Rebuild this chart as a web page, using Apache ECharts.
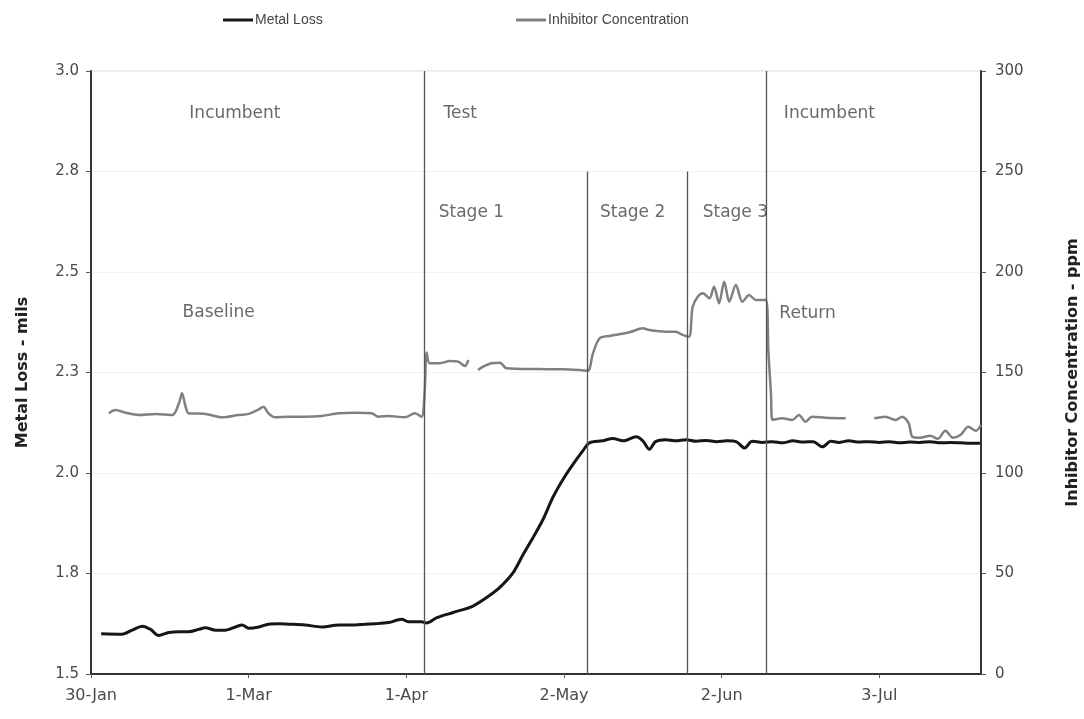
<!DOCTYPE html>
<html>
<head>
<meta charset="utf-8">
<script src="https://cdn.jsdelivr.net/npm/echarts@6/dist/echarts.min.js"></script>
<style>html,body{margin:0;padding:0;background:#fff}#c{width:1084px;height:719px}</style>
</head>
<body>
<div id="c"></div>
<script>
// ---- data ----
const xTickLabels = ['30-Jan', '1-Mar', '1-Apr', '2-May', '2-Jun', '3-Jul']; // every 31 days from 30-Jan
const leftTickLabels = ['1.5', '1.8', '2.0', '2.3', '2.5', '2.8', '3.0'];
const seriesNames = ['Metal Loss', 'Inhibitor Concentration'];

const metalLossDays = [2, 6.1, 8.1, 10.1, 11.7, 13.3, 15.3, 17.3, 19.2, 21.2, 22.5, 24.5, 26.4, 28.4, 29.7, 31, 33, 34.9, 36.9, 38.8, 42.1, 45.4, 48.7, 51.9, 53.9, 55.9, 58.5, 61.1, 62.4, 65, 66, 68, 71.2, 75.1, 79.1, 81, 83, 85, 86.9, 88.9, 90.8, 92.8, 94.8, 96.7, 98, 100.6, 102.6, 104.6, 107.2, 108.5, 109.8, 111, 113, 115, 117, 119, 121, 123, 125, 127, 128.5, 130, 132, 134, 136, 138, 140, 142, 143.8, 145.5, 147, 149, 151, 153, 155, 157, 159, 161, 163, 165, 167, 169, 171, 173, 174.8];
const metalLossValues = [1.600, 1.599, 1.609, 1.619, 1.611, 1.596, 1.603, 1.605, 1.605, 1.611, 1.615, 1.609, 1.609, 1.617, 1.622, 1.614, 1.617, 1.624, 1.625, 1.624, 1.622, 1.617, 1.622, 1.622, 1.624, 1.625, 1.628, 1.636, 1.630, 1.630, 1.627, 1.640, 1.653, 1.669, 1.702, 1.723, 1.752, 1.798, 1.839, 1.885, 1.939, 1.984, 2.022, 2.055, 2.075, 2.080, 2.086, 2.080, 2.090, 2.080, 2.059, 2.078, 2.083, 2.080, 2.083, 2.079, 2.081, 2.078, 2.080, 2.077, 2.062, 2.079, 2.076, 2.078, 2.075, 2.080, 2.077, 2.078, 2.065, 2.079, 2.076, 2.080, 2.077, 2.078, 2.076, 2.078, 2.075, 2.077, 2.076, 2.078, 2.075, 2.076, 2.075, 2.074, 2.074];

const inhibitorDays = [3.5, 4.8, 6.8, 9.4, 12.7, 16, 17.3, 17.9, 18.6, 19.2, 22.5, 25.8, 29, 31, 33, 33.9, 34.9, 36.2, 38.8, 42.1, 45.4, 48.7, 51.9, 55.2, 56.5, 58.5, 61.7, 63.7, 65, 65.6, 66, 66.6, 68.6, 70.6, 72.2, 73.5, 74.2, 75, 76.1, 77.1, 78.7, 80.4, 81.7, 87.6, 92.8, 96.1, 97.7, 98.7, 100, 102, 105.9, 108.5, 109.8, 113.1, 115, 116.3, 117.6, 118.3, 119.3, 120.3, 121.6, 122.5, 123.5, 124.5, 125.5, 126.8, 128.1, 129.4, 130.7, 132.7, 133.2, 133.7, 134, 136, 137.9, 139.2, 140.5, 141.8, 144.5, 148.4, 151, 154, 156.2, 158.2, 159.5, 160.8, 161.5, 163, 165, 166.5, 168, 169.5, 171, 172.5, 174, 175];
const inhibitorValues = [129.7, 131.3, 130, 128.9, 129.4, 128.9, 134.7, 139.7, 133, 129.7, 129.4, 127.7, 128.9, 129.4, 131.7, 133, 129.7, 127.7, 128, 128, 128.4, 129.7, 130, 129.7, 128, 128.4, 127.7, 129.7, 128, 140, 160, 154.6, 154.6, 155.7, 155.4, 153.2, 156.2, null, 151.2, 152.9, 154.6, 154.9, 152.1, 151.7, 151.6, 151.2, 150.9, 159.5, 167, 168.2, 170, 172, 171.1, 170.3, 170.3, 168.7, 167.8, 182.7, 187.7, 189.4, 186.9, 192.7, 184.4, 195.2, 185.2, 193.5, 185.2, 188.6, 186.1, 186.1, 160, 139.7, 126.4, 127.2, 126.4, 128.9, 125.5, 128, 127.5, 127.2, null, 127.2, 128, 126.4, 128, 124.7, 118, 117.5, 118.5, 117, 121, 117.5, 119, 123, 121, 124];

// stage boundary lines: day and top value (left axis)
const stageLineDays = [65.5, 97.5, 117.3, 132.8];
const stageLineTops = [3.0, 2.75, 2.75, 3.0];

// annotation texts with data-space anchors (day, left-axis value)
const annotationTexts = ['Incumbent', 'Test', 'Incumbent', 'Stage 1', 'Stage 2', 'Stage 3', 'Baseline', 'Return'];
const annotationDays = [28.3, 72.6, 145.2, 74.8, 106.5, 126.7, 25.1, 140.9];
const annotationValues = [2.893, 2.893, 2.893, 2.647, 2.647, 2.647, 2.40, 2.396];

// ---- build ----
const metalData = metalLossDays.map((d, i) => [d, metalLossValues[i]]);
const inhData = inhibitorDays.map((d, i) => [d, inhibitorValues[i] === null ? '-' : inhibitorValues[i]]);
const stageLines = stageLineDays.map((d, i) => [{ coord: [d, stageLineTops[i]] }, { coord: [d, 1.5] }]);
const annData = annotationTexts.map((t, i) => ({ name: t, value: [annotationDays[i], annotationValues[i]] }));

const tickFont = 'DejaVu Sans';
const chart = echarts.init(document.getElementById('c'), null, { renderer: 'canvas' });
chart.setOption({
  animation: false,
  backgroundColor: '#fff',
  grid: { left: 91, right: 103, top: 71, bottom: 45, show: true, borderColor: '#d0d0d0', borderWidth: 1,
          containLabel: false, outerBoundsMode: 'none' },
  legend: [
    { data: [seriesNames[0]], left: 218, top: 8, icon: 'rect', itemWidth: 30, itemHeight: 3, itemGap: 0,
      textStyle: { fontFamily: 'Liberation Sans', fontSize: 14, color: '#444', padding: [0, 0, 0, -3] } },
    { data: [seriesNames[1]], left: 511, top: 8, icon: 'rect', itemWidth: 30, itemHeight: 3, itemGap: 0,
      textStyle: { fontFamily: 'Liberation Sans', fontSize: 14, color: '#444', padding: [0, 0, 0, -3] } }
  ],
  xAxis: {
    type: 'value', min: 0, max: 175, interval: 31,
    axisLine: { show: true, lineStyle: { color: '#333', width: 2 } },
    axisTick: { show: true, length: 4, lineStyle: { color: '#555' } },
    splitLine: { show: false },
    axisLabel: {
      margin: 14, fontFamily: tickFont, fontSize: 16, color: '#4a4a4a', showMaxLabel: false,
      formatter: v => { const k = Math.round(v / 31); return (Math.abs(v - k * 31) < 1e-6 && xTickLabels[k]) ? xTickLabels[k] : ''; }
    }
  },
  yAxis: [
    {
      type: 'value', min: 1.5, max: 3.0, interval: 0.25, position: 'left',
      name: 'Metal Loss - mils', nameLocation: 'middle', nameGap: 60, nameRotate: 90,
      nameTextStyle: { fontFamily: tickFont, fontSize: 16, fontWeight: 'bold', color: '#222' },
      axisLine: { show: true, lineStyle: { color: '#333', width: 2 } },
      axisTick: { show: true, length: 5, lineStyle: { color: '#555' } },
      splitLine: { show: true, lineStyle: { color: '#f2f2f2', width: 1 } },
      axisLabel: {
        margin: 12, fontFamily: tickFont, fontSize: 15, color: '#4a4a4a',
        formatter: v => { const k = Math.round((v - 1.5) / 0.25); return leftTickLabels[k] || ''; }
      }
    },
    {
      type: 'value', min: 0, max: 300, interval: 50, position: 'right',
      name: 'Inhibitor Concentration - ppm', nameLocation: 'middle', nameGap: 84, nameRotate: 90,
      nameTextStyle: { fontFamily: tickFont, fontSize: 16, fontWeight: 'bold', color: '#222' },
      axisLine: { show: true, lineStyle: { color: '#333', width: 2 } },
      axisTick: { show: true, length: 5, lineStyle: { color: '#555' } },
      splitLine: { show: false },
      axisLabel: { margin: 14, fontFamily: tickFont, fontSize: 15, color: '#4a4a4a' }
    }
  ],
  series: [
    {
      name: seriesNames[0], type: 'line', yAxisIndex: 0, data: metalData, showSymbol: false, smooth: 0.3, z: 4,
      itemStyle: { color: '#161616' },
      lineStyle: { color: '#161616', width: 3 },
      markLine: {
        silent: true, symbol: 'none', label: { show: false }, animation: false,
        lineStyle: { color: '#555', width: 1.3, type: 'solid' },
        data: stageLines
      }
    },
    {
      name: seriesNames[1], type: 'line', yAxisIndex: 1, data: inhData, showSymbol: false, smooth: 0.3, z: 3,
      connectNulls: false,
      itemStyle: { color: '#808080' },
      lineStyle: { color: '#808080', width: 2.5 }
    },
    {
      name: 'annotations', type: 'scatter', yAxisIndex: 0, data: annData, symbolSize: 0, silent: true, z: 5,
      label: { show: true, position: 'inside', formatter: p => p.name, fontFamily: tickFont, fontSize: 17, color: '#444' }
    }
  ]
});
</script>
</body>
</html>
